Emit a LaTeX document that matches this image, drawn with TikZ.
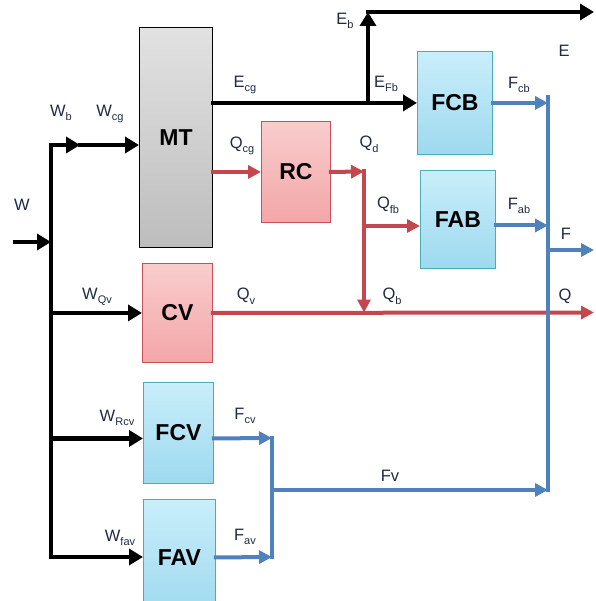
\documentclass[tikz,border=0pt]{standalone}
\usepackage{fontspec}
\setmainfont{Liberation Sans}
\usetikzlibrary{arrows.meta, positioning}
\usepackage{xcolor}
\definecolor{FlowRed}{HTML}{C4474F}
\definecolor{FlowBlue}{HTML}{4F81BD}
\definecolor{LabelInk}{HTML}{1F2A44}
\definecolor{MachGrayTop}{HTML}{E2E2E2}
\definecolor{MachGrayBot}{HTML}{BDBDBD}
\definecolor{HeatTop}{HTML}{F9CDCD}
\definecolor{HeatBot}{HTML}{F3A6A8}
\definecolor{HeatEdge}{HTML}{C8505A}
\definecolor{ColdTop}{HTML}{C9EEFA}
\definecolor{ColdBot}{HTML}{9ED9EF}
\definecolor{ColdEdge}{HTML}{4BACB4}

\newcommand{\vsub}[2]{#1\raisebox{-0.28em}{\fontsize{11}{11}\selectfont #2}}

\begin{document}
\begin{tikzpicture}[
    x=1pt, y=-1pt,
    unit/.style={
        draw, line width=0.9pt, anchor=north west, inner sep=0pt,
        font=\fontsize{23}{25}\selectfont\bfseries
    },
    mach/.style={unit, top color=MachGrayTop, bottom color=MachGrayBot, draw=black},
    heat/.style={unit, top color=HeatTop, bottom color=HeatBot, draw=HeatEdge},
    cold/.style={unit, top color=ColdTop, bottom color=ColdBot, draw=ColdEdge},
    blk/.style={line width=4.5pt, line cap=rect, black},
    redl/.style={line width=4pt, line cap=rect, FlowRed},
    bluel/.style={line width=4pt, line cap=rect, FlowBlue},
    arrb/.style={-{Triangle[length=14pt, width=16pt]}},
    arrc/.style={-{Triangle[length=13pt, width=13pt]}},
    lbl/.style={font=\fontsize{16.5}{18}\selectfont, text=LabelInk, inner sep=1pt}
]
\useasboundingbox (0,0) rectangle (595,601);

% =============================================
% UNITS
% =============================================
\node[mach, minimum width=73pt, minimum height=220pt] (MT) at (139,27) {MT};
\node[heat, minimum width=69pt, minimum height=101pt] (RC) at (261,121) {RC};
\node[cold, minimum width=75pt, minimum height=103pt] (FCB) at (417,51) {FCB};
\node[cold, minimum width=75pt, minimum height=98pt] (FAB) at (420,170) {FAB};
\node[heat, minimum width=70pt, minimum height=99pt] (CV) at (142,263) {CV};
\node[cold, minimum width=70pt, minimum height=101pt] (FCV) at (143,382) {FCV};
\node[cold, minimum width=72pt, minimum height=116pt] (FAV) at (143,499) {FAV};

% =============================================
% JUNCTIONS
% =============================================
\coordinate (win) at (15,242);
\coordinate (wj) at (51,242);
\coordinate (wtop) at (51,145);
\coordinate (wmid) at (80,145);
\coordinate (wbot) at (51,557);

\coordinate (etop) at (368,12);
\coordinate (ej) at (etop |- FCB.west);
\coordinate (eout) at (594,12);

\coordinate (qd) at (364,171.5);
\coordinate (qf) at (364,226);
\coordinate (qb) at (364,312.5);
\coordinate (qout) at (594,312.5);

\coordinate (ftop) at (548,97);
\coordinate (fbot) at (548,490);
\coordinate (fj) at (548,250);
\coordinate (fout) at (594,250);

\coordinate (fcol) at (272,438);
\coordinate (fvj) at (272,490);
\coordinate (fav) at (272,557);

% =============================================
% W: FUEL SUPPLY (black)
% =============================================
\draw[blk, arrb] (win) -- (wj);
\draw[blk, arrb] (wbot) -- (wtop) -- (wmid);
\draw[blk, arrb] (wmid) -- (wmid -| MT.west);
\draw[blk, arrb] (wtop |- CV.west) -- (CV.west);
\draw[blk, arrb] ([yshift=-5.5pt]FCV.west -| wtop) -- ([yshift=-5.5pt]FCV.west);
\draw[blk, arrb] (wbot) -- (wbot -| FAV.west);

\node[lbl] (lW) at (22,205) {W};
\node[lbl] (lWb) at (61,113) {\vsub{W}{b}};
\node[lbl] (lWcg) at (110,114) {\vsub{W}{cg}};
\node[lbl] (lWQv) at (97,297) {\vsub{W}{Qv}};
\node[lbl] (lWRcv) at (117,418) {\vsub{W}{Rcv}};
\node[lbl] (lWfav) at (120,538) {\vsub{W}{fav}};

% =============================================
% E: ELECTRICITY (black)
% =============================================
\draw[blk, arrb] (MT.east |- FCB.west) -- (FCB.west);
\draw[blk, arrb] (ej) -- (etop);
\draw[blk, arrb] (etop) -- (eout);

\node[lbl] (lEcg) at (245,85) {\vsub{E}{cg}};
\node[lbl] (lEb) at (345,21) {\vsub{E}{b}};
\node[lbl] (lEFb) at (386,84) {\vsub{E}{Fb}};
\node[lbl] (lE) at (564,51) {E};

% =============================================
% Q: HEAT (red)
% =============================================
\draw[redl, arrc] (MT.east |- RC.west) -- (RC.west);
\draw[redl, arrc] (RC.east) -- (qd);
\draw[redl, arrc] (qd) -- (qb);
\draw[redl, arrc] (qf) -- (qf -| FAB.west);
\draw[redl, arrc] (CV.east) -- (qout);

\node[lbl] (lQcg) at (242,146) {\vsub{Q}{cg}};
\node[lbl] (lQd) at (369,144) {\vsub{Q}{d}};
\node[lbl] (lQfb) at (388,205) {\vsub{Q}{fb}};
\node[lbl] (lQv) at (246,296) {\vsub{Q}{v}};
\node[lbl] (lQb) at (392,296) {\vsub{Q}{b}};
\node[lbl] (lQ) at (565,296) {Q};

% =============================================
% F: COOLING (blue)
% =============================================
\draw[bluel] (ftop) -- (fbot);
\draw[bluel, arrc] (FCB.east) -- (FCB.east -| ftop);
\draw[bluel, arrc] ([yshift=-6pt]FAB.east) -- ([yshift=-6pt]FAB.east -| ftop);
\draw[bluel, arrc] (fj) -- (fout);

\draw[bluel] (fcol) -- (fav);
\draw[bluel, arrc] ([yshift=-5.5pt]FCV.east) -- (fcol);
\draw[bluel, arrc] (FAV.east) -- (fav);
\draw[bluel, arrc] (fvj) -- (fbot);

\node[lbl] (lFcb) at (519,85) {\vsub{F}{cb}};
\node[lbl] (lFab) at (519,206) {\vsub{F}{ab}};
\node[lbl] (lF) at (566,234) {F};
\node[lbl] (lFcv) at (245,416) {\vsub{F}{cv}};
\node[lbl] (lFav) at (245,537) {\vsub{F}{av}};
\node[lbl] (lFv) at (390,476) {Fv};

\end{tikzpicture}
\end{document}
